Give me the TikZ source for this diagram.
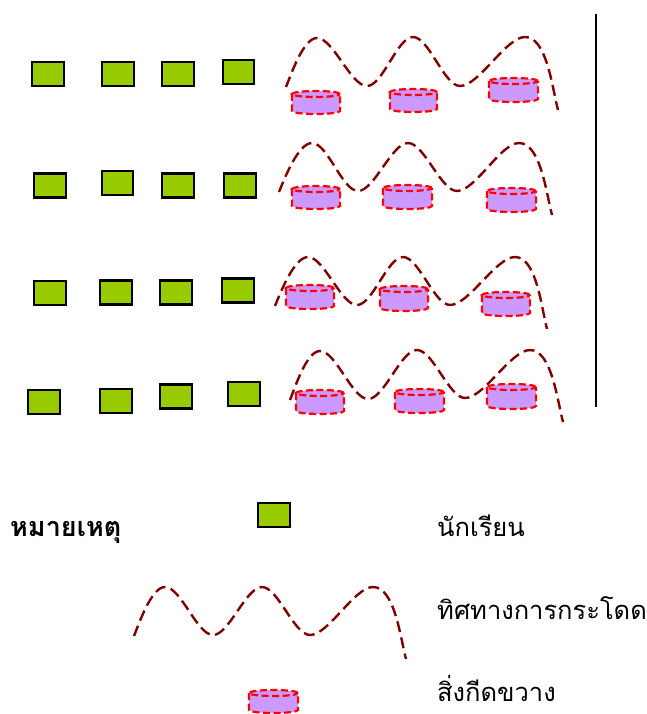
\documentclass[tikz,border=0pt]{standalone}
\usepackage{fontspec}
\newfontfamily\thai[Script=Thai]{Loma}
\definecolor{stud}{HTML}{99CC00}
\definecolor{obfill}{HTML}{CC99FF}
\definecolor{obline}{HTML}{FF0000}
\definecolor{jumpc}{HTML}{7F0000}
\tikzset{
  student/.style={draw=black, fill=stud, line width=2.2pt, minimum width=31.5pt, minimum height=24pt, inner sep=0pt},
  jump/.style={draw=jumpc, line width=2.4pt, dash pattern=on 11pt off 5.5pt},
  obfillst/.style={fill=obfill},
  oblinest/.style={draw=obline, line width=2.2pt, dash pattern=on 7pt off 3.5pt},
  legtext/.style={font=\thai\fontsize{25.5}{30}\selectfont, anchor=base west, inner sep=0pt},
}
\newcommand\obst[4]{%
  \pgfmathsetmacro\ocx{(#1+#3)/2}%
  \pgfmathsetmacro\orx{(#3-#1)/2}%
  \pgfmathsetmacro\oyt{-#2-3}%
  \pgfmathsetmacro\oyb{-#4+3}%
  \fill[obfillst] (#1,\oyt) rectangle (#3,\oyb);
  \fill[obfillst] (\ocx,\oyt) ellipse[x radius=\orx, y radius=3];
  \fill[obfillst] (\ocx,\oyb) ellipse[x radius=\orx, y radius=3];
  \draw[oblinest] (\ocx,\oyt) ellipse[x radius=\orx, y radius=3];
  \draw[oblinest] (#1,\oyt) -- (#1,\oyb) arc[start angle=180, end angle=360, x radius=\orx, y radius=3] -- (#3,\oyt);
}
\newcommand\wave[7]{%
  \draw[jump] (#1) to[out=68,in=180,looseness=0.6] (#2) to[out=0,in=180,looseness=0.6] (#3) to[out=0,in=180,looseness=0.6] (#4)
    to[out=0,in=180,looseness=0.6] (#5) to[out=0,in=180,looseness=0.6] (#6) to[out=0,in=105,looseness=0.7] (#7);
}
\begin{document}
\begin{tikzpicture}[x=1pt,y=1pt]
\useasboundingbox (0,0) rectangle (646,-714);
% students
\node[student] (s11) at (48,-74) {};
\node[student] (s12) at (118,-74) {};
\node[student] (s13) at (178,-74) {};
\node[student] (s14) at (238.5,-72) {};
\node[student] (s21) at (50,-185.5) {};
\node[student] (s22) at (117.5,-183) {};
\node[student] (s23) at (178,-185.5) {};
\node[student] (s24) at (240,-185.5) {};
\node[student] (s31) at (50,-293) {};
\node[student] (s32) at (116,-292.5) {};
\node[student] (s33) at (176,-292.5) {};
\node[student] (s34) at (238,-290.5) {};
\node[student] (s41) at (44,-402) {};
\node[student] (s42) at (116,-401) {};
\node[student] (s43) at (176,-396.5) {};
\node[student] (s44) at (244,-394) {};
% obstacles
\obst{292}{91}{340}{114}
\obst{390}{89}{437}{112}
\obst{489}{78}{538}{102}
\obst{292}{186}{340}{209}
\obst{383}{185}{432}{209}
\obst{487}{188}{536}{212}
\obst{286}{285}{334}{309}
\obst{380}{286}{428}{311}
\obst{482}{292}{530}{316}
\obst{296}{390}{344}{414}
\obst{395}{389}{444}{413}
\obst{487}{384}{536}{409}
% waves
\wave{286,-87}{317,-38}{367,-86}{413,-37}{460,-86}{525,-37}{558,-110}
\wave{279,-192}{312,-143}{358,-191}{408,-143}{457,-191}{519,-143}{552,-215}
\wave{275,-306}{308,-257}{357,-305}{403,-257}{450,-305}{515,-257}{547,-329}
\wave{290,-400}{320,-351}{368,-399}{417,-350}{465,-398}{530,-350}{563,-422}
% wall
\coordinate (w1) at (596,-14);
\coordinate (w2) at (596,-407);
\draw[line width=2pt] (w1) -- (w2);
% legend
\node[font=\thai\bfseries\fontsize{27}{31}\selectfont, anchor=base west, inner sep=0pt] (legtitle) at (10,-536) {หมายเหตุ};
\node[student] (legs) at (274,-515) {};
\node[legtext] (t1) at (437,-536) {นักเรียน};
\wave{134,-636}{165,-587}{213,-635}{262,-587}{310,-635}{373,-587}{406,-659}
\node[legtext] (t2) at (437,-619) {ทิศทางการกระโดด};
\obst{249}{690}{298}{713}
\node[legtext] (t3) at (437,-701) {สิ่งกีดขวาง};
\end{tikzpicture}
\end{document}
